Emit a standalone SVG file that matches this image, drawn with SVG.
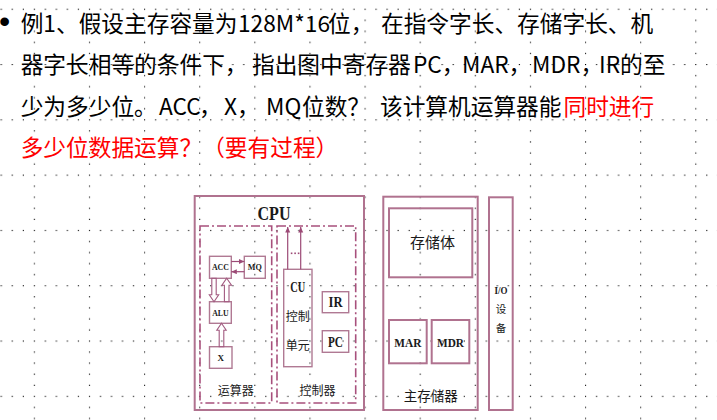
<svg xmlns="http://www.w3.org/2000/svg" width="717" height="420" viewBox="0 0 717 420">
<style>
.q{font-family:"Noto Sans CJK SC","Noto Sans",sans-serif;font-size:22.7px;fill:#000}
.red{fill:#ff0000}
.big{fill:none;stroke:#b0728f;stroke-width:2}
.box{fill:none;stroke:#b07993;stroke-width:1.4}
.dd{fill:none;stroke:#a8507c;stroke-width:1.6;stroke-dasharray:9 3 2 3}
.ln{fill:none;stroke:#9c4a76;stroke-width:1.2}
.ha{fill:none;stroke:#a25a80;stroke-width:1.1}
.lt{font-family:"Liberation Serif",serif;font-weight:bold;fill:#1a1a1a;text-anchor:middle}
.cj{font-family:"Noto Sans CJK SC",sans-serif;fill:#1a1a1a;text-anchor:middle}
</style>
<defs>
<pattern id="grid" patternUnits="userSpaceOnUse" x="33.8" y="8.7" width="55.12" height="55.3">
<g fill="#000">
<rect x="0" y="0" width="1.1" height="1.1"/>
<rect x="11.02" y="0" width="1.1" height="1.1"/>
<rect x="22.05" y="0" width="1.1" height="1.1"/>
<rect x="33.07" y="0" width="1.1" height="1.1"/>
<rect x="44.1" y="0" width="1.1" height="1.1"/>
<rect x="0" y="11.06" width="1.1" height="1.1"/>
<rect x="0" y="22.12" width="1.1" height="1.1"/>
<rect x="0" y="33.18" width="1.1" height="1.1"/>
<rect x="0" y="44.24" width="1.1" height="1.1"/>
</g>
</pattern>
<marker id="ah" markerUnits="userSpaceOnUse" markerWidth="6" markerHeight="6" refX="5.5" refY="2.5" orient="auto">
<path d="M0,0 L5.5,2.5 L0,5 z" fill="#9c4a76"/>
</marker>
</defs>
<rect width="717" height="420" fill="#fff"/>
<rect width="717" height="420" fill="url(#grid)"/>

<g id="question">
<text x="-1" y="32" font-family="Liberation Sans" font-size="32" fill="#000">•</text>
<text class="q" y="32"><tspan x="20.7">例1、假设主存容量为</tspan><tspan x="238">128M*16</tspan><tspan x="328">位，</tspan><tspan x="381">在指令字长、存储字长、机</tspan></text>
<text class="q" y="73.3"><tspan x="20.7">器字长相等的条件下，</tspan><tspan x="252">指出图中寄存器</tspan><tspan x="413">PC，</tspan><tspan x="462">MAR，</tspan><tspan x="532">MDR，</tspan><tspan x="599">IR的至</tspan></text>
<text class="q" y="114.7"><tspan x="20.7">少为多少位。</tspan><tspan x="159">ACC</tspan><tspan x="199">，</tspan><tspan x="224">X</tspan><tspan x="237">，</tspan><tspan x="266">MQ</tspan><tspan x="302">位数？</tspan><tspan x="380">该计算机运算器能</tspan><tspan x="563.5" class="red">同时进行</tspan></text>
<text class="q red" x="20.7" y="156">多少位数据运算？（要有过程）</text>
</g>

<g id="cpu">
<rect class="big" x="194.7" y="196" width="169.3" height="214"/>
<text class="lt" x="274" y="220" font-size="18" textLength="33" lengthAdjust="spacingAndGlyphs">CPU</text>
</g>
<g id="alu-unit">
<rect class="dd" x="200" y="226" width="71.7" height="177"/>
<text class="cj" x="235.8" y="394.5" font-size="12">运算器</text>
</g>
<g id="ctrl-unit">
<rect class="dd" x="277" y="226" width="78.7" height="177"/>
<text class="cj" x="317.5" y="394.5" font-size="12">控制器</text>
</g>
<g id="acc">
<rect class="box" x="209.5" y="256.3" width="21.8" height="22"/>
<text class="lt" x="220.4" y="270.3" font-size="9" textLength="17" lengthAdjust="spacingAndGlyphs">ACC</text>
</g>
<g id="mq">
<rect class="box" x="244.3" y="256.3" width="21" height="22"/>
<text class="lt" x="254.8" y="270.3" font-size="9" textLength="14" lengthAdjust="spacingAndGlyphs">MQ</text>
</g>
<g id="alu">
<rect class="box" x="209.5" y="301.7" width="21.8" height="21.6"/>
<text class="lt" x="220.4" y="315.6" font-size="9" textLength="16.5" lengthAdjust="spacingAndGlyphs">ALU</text>
</g>
<g id="x">
<rect class="box" x="209.5" y="346.7" width="22.5" height="21.6"/>
<text class="lt" x="220.8" y="360.6" font-size="9">X</text>
</g>
<g id="cu">
<rect class="box" x="283.7" y="269.3" width="28.3" height="97.4"/>
<text class="lt" x="297.8" y="291.8" font-size="14" textLength="15" lengthAdjust="spacingAndGlyphs">CU</text>
<text class="cj" x="297.8" y="321" font-size="12">控制</text>
<text class="cj" x="297.8" y="349.5" font-size="12">单元</text>
</g>
<g id="ir">
<rect class="box" x="322.3" y="291.7" width="26.4" height="21"/>
<text class="lt" x="335.5" y="307.2" font-size="14" textLength="14" lengthAdjust="spacingAndGlyphs">IR</text>
</g>
<g id="pc">
<rect class="box" x="322.3" y="330.7" width="26.4" height="21.6"/>
<text class="lt" x="335.5" y="346.5" font-size="14" textLength="15" lengthAdjust="spacingAndGlyphs">PC</text>
</g>

<g id="main-memory">
<rect class="big" x="383.3" y="196.7" width="94.4" height="213.3"/>
<text class="cj" x="430.8" y="401" font-size="13.5">主存储器</text>
</g>
<g id="storage">
<rect class="big" x="389" y="208.3" width="83.3" height="69"/>
<text class="cj" x="432.5" y="248.3" font-size="15">存储体</text>
</g>
<g id="mar">
<rect class="big" x="389" y="320" width="37.7" height="43.3"/>
<text class="lt" x="407.8" y="346.5" font-size="13" textLength="27" lengthAdjust="spacingAndGlyphs">MAR</text>
</g>
<g id="mdr">
<rect class="big" x="431.7" y="320" width="37.6" height="43.3"/>
<text class="lt" x="450.5" y="346.5" font-size="13" textLength="27" lengthAdjust="spacingAndGlyphs">MDR</text>
</g>
<g id="io">
<rect class="big" x="489" y="197.3" width="23.7" height="212.7"/>
<text class="lt" x="501" y="293.5" font-size="10" textLength="13" lengthAdjust="spacingAndGlyphs">I/O</text>
<text class="cj" x="501" y="313.3" font-size="10.5">设</text>
<text class="cj" x="501" y="332.3" font-size="10.5">备</text>
</g>

<g id="connectors">
<line class="ln" x1="231.3" y1="261.5" x2="244.3" y2="261.5" marker-end="url(#ah)"/>
<line class="ln" x1="244.3" y1="271.7" x2="231.3" y2="271.7" marker-end="url(#ah)"/>
<polygon class="ha" points="214,301.7 209.3,294.7 211.8,294.7 211.8,278.3 216.2,278.3 216.2,294.7 218.7,294.7"/>
<polygon class="ha" points="226.7,278.3 231.5,285.3 229,285.3 229,301.7 224.4,301.7 224.4,285.3 221.9,285.3"/>
<polygon class="ha" points="221.5,323.3 226.2,330.3 223.8,330.3 223.8,346.7 219.2,346.7 219.2,330.3 216.8,330.3"/>
<line class="ln" x1="287.7" y1="269.3" x2="287.7" y2="227" marker-end="url(#ah)"/>
<line class="ln" x1="300.7" y1="269.3" x2="300.7" y2="227" marker-end="url(#ah)"/>
<g fill="#9c4a76">
<rect x="290.8" y="252.5" width="1.6" height="1.6"/>
<rect x="294.3" y="252.5" width="1.6" height="1.6"/>
<rect x="297.8" y="252.5" width="1.6" height="1.6"/>
</g>
</g>
</svg>
